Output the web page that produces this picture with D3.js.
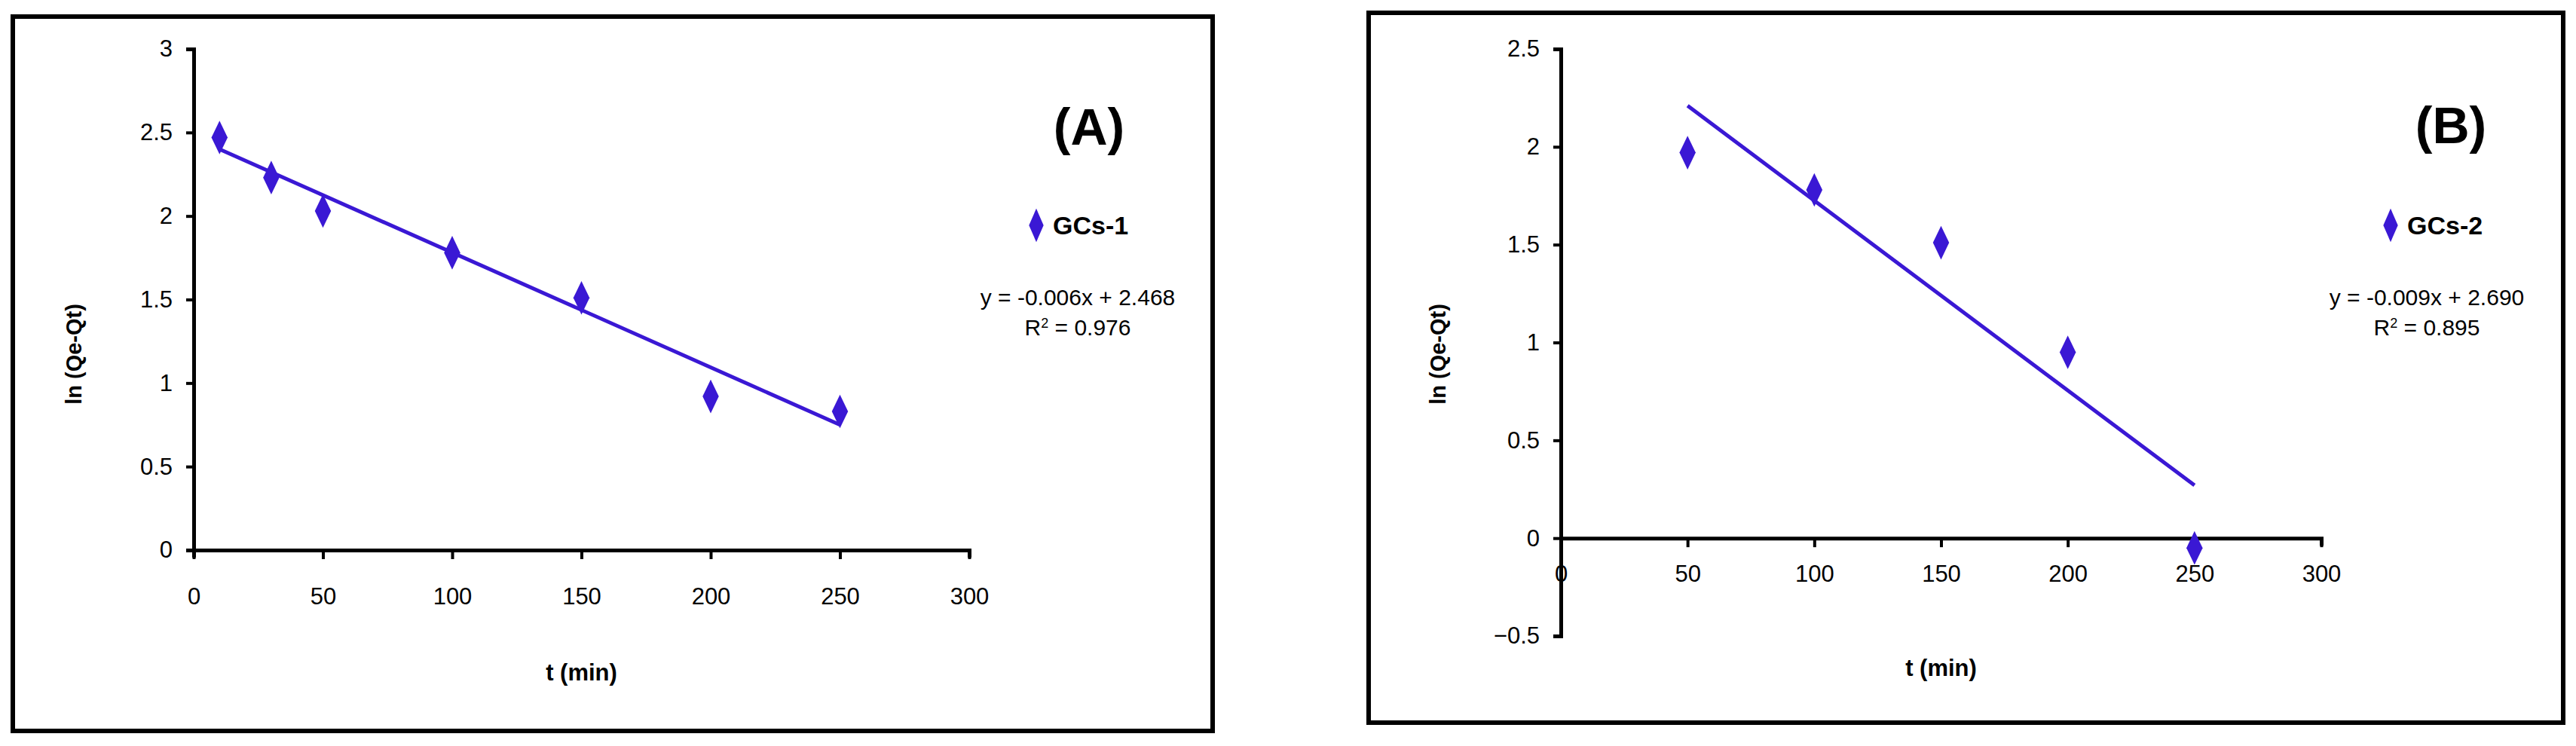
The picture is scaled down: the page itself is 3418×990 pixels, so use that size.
<!DOCTYPE html><html><head><meta charset="utf-8"><script src="https://cdn.jsdelivr.net/npm/d3@7"></script>
<style>body{margin:0;background:#fff}text{font-family:"Liberation Sans Narrow","Liberation Sans",Arial,sans-serif}</style></head><body>
<svg id="c" width="3418" height="990"></svg>
<script>
const xTicks=[0,50,100,150,200,250,300];
const yTicksA=[0,0.5,1,1.5,2,2.5,3];
const yTicksB=[-0.5,0,0.5,1,1.5,2,2.5];
const tA=[10,30,50,100,150,200,250];
const vA=[2.47,2.23,2.03,1.78,1.51,0.92,0.83];
const tB=[50,100,150,200,250];
const vB=[1.97,1.78,1.51,0.95,-0.05];
const fitA=[[10,2.40],[250,0.75]];
const fitB=[[50,2.21],[250,0.27]];
const C="#3a18d4";
const svg=d3.select("#c");
function panel(o){
  const g=svg.append("g");
  g.append("rect").attr("x",o.box[0]).attr("y",o.box[1]).attr("width",o.box[2]).attr("height",o.box[3]).attr("fill","none").attr("stroke","#000").attr("stroke-width",6);
  const x=d3.scaleLinear().domain([0,300]).range(o.xr);
  const y=d3.scaleLinear().domain(o.yd).range(o.yr);
  const ya=g.append("g").attr("transform",`translate(${o.xr[0]},0)`).call(d3.axisLeft(y).tickValues(o.yt).tickSize(10).tickPadding(18).tickFormat(d3.format("")));
  const xa=g.append("g").attr("transform",`translate(0,${y(0)})`).call(d3.axisBottom(x).tickValues(xTicks).tickSize(10).tickPadding(o.xpad).tickFormat(d3.format("")));
  [ya,xa].forEach(a=>{a.select(".domain").attr("stroke-width",5);a.selectAll("line").attr("stroke-width",4);a.selectAll("text").attr("font-size",31).attr("fill","#000");});
  xa.selectAll(".tick line").attr("y2",12);
  g.append("line").attr("x1",x(o.fit[0][0])).attr("y1",y(o.fit[0][1])).attr("x2",x(o.fit[1][0])).attr("y2",y(o.fit[1][1])).attr("stroke",C).attr("stroke-width",5);
  const dia=d3.symbol().type(d3.symbolDiamond).size(400);
  g.selectAll("path.pt").data(o.t).join("path").attr("class","pt").attr("d",dia).attr("fill",C)
    .attr("transform",(d,i)=>`translate(${x(d)},${y(o.v[i])}) scale(1,1.2)`);
  g.append("path").attr("d",dia).attr("fill",C).attr("transform",`translate(${o.leg[0]},${o.leg[1]}) scale(0.9,1.2)`);
  g.append("text").attr("x",o.leg[0]+22).attr("y",o.leg[1]+12).attr("font-size",34).attr("font-weight","bold").text(o.name);
  g.append("text").attr("x",o.eq[0]).attr("y",o.eq[1]).attr("text-anchor","middle").attr("font-size",30).text(o.eqt);
  const r=g.append("text").attr("x",o.eq[0]).attr("y",o.eq[1]+40).attr("text-anchor","middle").attr("font-size",30);
  r.append("tspan").text("R");r.append("tspan").attr("dy",-10).attr("font-size",18).text("2");r.append("tspan").attr("dy",10).text(" = "+o.r2);
  g.append("text").attr("x",o.lab[0]).attr("y",o.lab[1]).attr("text-anchor","middle").attr("font-size",68).attr("font-weight","bold").text(o.label);
  g.append("text").attr("x",(o.xr[0]+o.xr[1])/2).attr("y",o.xl).attr("text-anchor","middle").attr("font-size",31).attr("font-weight","bold").text("t (min)");
  g.append("text").attr("transform",`translate(${o.yl[0]},${o.yl[1]}) rotate(-90)`).attr("text-anchor","middle").attr("font-size",29).attr("font-weight","bold").text("ln (Qe-Qt)");
}
panel({box:[17,22,1592,948],xr:[257,1286],yd:[0,3],yr:[730,65],yt:yTicksA,xpad:40,t:tA,v:vA,fit:fitA,leg:[1375,299],name:"GCs-1",eq:[1430,405],eqt:"y = -0.006x + 2.468",r2:"0.976",lab:[1445,192],label:"(A)",xl:903,yl:[108,470]});
panel({box:[1816,17,1585,942],xr:[2071,3080],yd:[-0.5,2.5],yr:[844,65],yt:yTicksB,xpad:26,t:tB,v:vB,fit:fitB,leg:[3172,299],name:"GCs-2",eq:[3220,405],eqt:"y = -0.009x + 2.690",r2:"0.895",lab:[3252,190],label:"(B)",xl:897,yl:[1918,470]});
</script></body></html>
